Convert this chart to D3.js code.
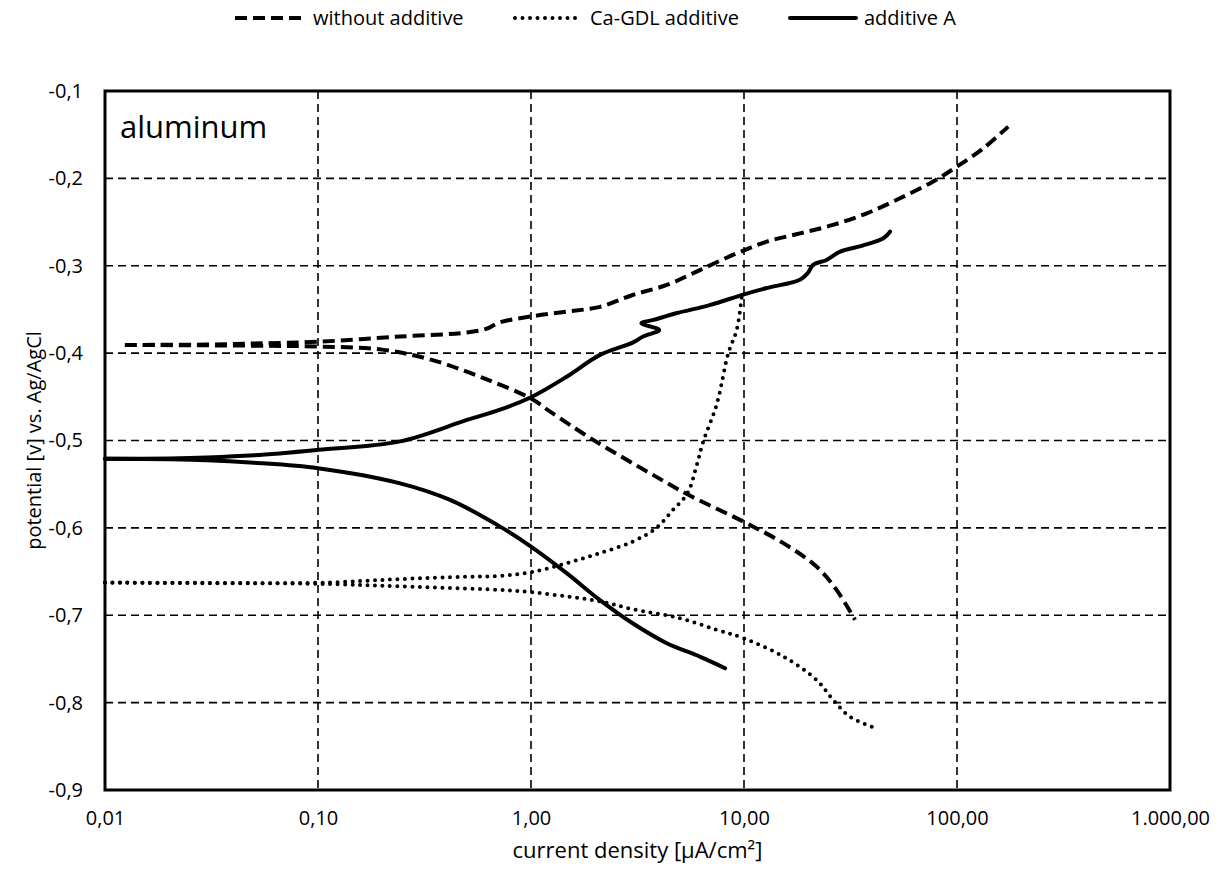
<!DOCTYPE html>
<html>
<head>
<meta charset="utf-8">
<script src="https://cdn.jsdelivr.net/npm/d3@7"></script>
<style>
  body { margin: 0; background: #fff; }
  text { font-family: "Open Sans", "Noto Sans", sans-serif; fill: #000; }
</style>
</head>
<body>
<div id="chart"></div>
<script>

// tick values and labels
var xTicks = [0.01, 0.1, 1, 10, 100, 1000];
var xTickLabels = ["0,01", "0,10", "1,00", "10,00", "100,00", "1.000,00"];
var yTicks = [-0.1, -0.2, -0.3, -0.4, -0.5, -0.6, -0.7, -0.8, -0.9];
var yTickLabels = ["-0,1", "-0,2", "-0,3", "-0,4", "-0,5", "-0,6", "-0,7", "-0,8", "-0,9"];

var seriesNames = ["without additive", "Ca-GDL additive", "additive A"];

// [current density µA/cm², potential V]
var noAdditiveAnodic = [
  [0.0124, -0.3906], [0.03, -0.3902], [0.05, -0.389], [0.1, -0.387], [0.243, -0.381],
  [0.5, -0.3765], [0.62, -0.372], [0.71, -0.365], [1.0, -0.358], [1.47, -0.3525], [2.11, -0.347],
  [3.0, -0.3335], [4.34, -0.322], [6.2, -0.305], [9.25, -0.2857], [12.8, -0.2724],
  [18.3, -0.263], [26.2, -0.2533], [37.7, -0.24], [54, -0.2228], [77, -0.2038],
  [99.8, -0.1866], [133, -0.1656], [174, -0.1408]
];
var noAdditiveCathodic = [
  [0.0124, -0.3906], [0.05, -0.3915], [0.1, -0.3925], [0.2, -0.396], [0.345, -0.408],
  [0.59, -0.428], [1.0, -0.452], [1.23, -0.467], [1.96, -0.4993], [3.62, -0.5374],
  [5.48, -0.5622], [9.93, -0.5928], [15.3, -0.6175], [21.9, -0.6443], [27.2, -0.671],
  [33.2, -0.7053]
];
var caGdlAnodic = [
  [0.01, -0.6626], [0.1, -0.6628], [0.243, -0.6586], [0.5, -0.656], [0.71, -0.655],
  [1.0, -0.6507], [1.47, -0.6404], [2.1, -0.629], [3.0, -0.6157], [3.86, -0.6004],
  [4.64, -0.5794], [5.43, -0.5603], [5.97, -0.53], [6.44, -0.501], [7.44, -0.459],
  [8.44, -0.40], [9.25, -0.373], [9.75, -0.336]
];
var caGdlCathodic = [
  [0.01, -0.6626], [0.1, -0.664], [0.243, -0.667], [0.71, -0.671], [1.0, -0.6736],
  [1.47, -0.6785], [2.1, -0.684], [3.0, -0.693], [5.0, -0.7034], [7.44, -0.7167],
  [9.93, -0.7262], [15.3, -0.7472], [21.9, -0.774], [26.2, -0.7968], [31.4, -0.816],
  [41.2, -0.829]
];
var additiveAAnodic = [
  [0.01, -0.521], [0.02, -0.5205], [0.03, -0.5195], [0.05, -0.517], [0.1, -0.5107],
  [0.243, -0.501], [0.5, -0.4765], [0.71, -0.465], [1.0, -0.4505], [1.47, -0.427],
  [2.11, -0.402], [3.0, -0.388], [3.36, -0.381], [4.0, -0.3735], [3.3, -0.3658],
  [3.76, -0.362], [4.8, -0.3544], [6.9, -0.345], [9.93, -0.333], [12.8, -0.3255],
  [18.3, -0.316], [19.9, -0.3086], [21.1, -0.299], [24.4, -0.2934], [28.3, -0.2838],
  [36, -0.277], [45.1, -0.2686], [48.5, -0.261]
];
var additiveACathodic = [
  [0.01, -0.521], [0.02, -0.5215], [0.03, -0.5225], [0.05, -0.5255], [0.1, -0.5317],
  [0.243, -0.549], [0.417, -0.568], [0.71, -0.598], [1.0, -0.6214], [1.47, -0.6518],
  [2.1, -0.6824], [3.0, -0.7092], [4.34, -0.732], [6.2, -0.7473], [8.15, -0.7606]
];

// set the dimensions and margins of the graph
var margin = {top: 91, right: 54, bottom: 89, left: 105},
    width = 1224 - margin.left - margin.right,
    height = 879 - margin.top - margin.bottom;

var svgRoot = d3.select("#chart")
  .append("svg")
    .attr("width", 1224)
    .attr("height", 879);

var svg = svgRoot.append("g")
    .attr("transform", "translate(" + margin.left + "," + margin.top + ")");

var x = d3.scaleLog()
  .domain([0.01, 1000])
  .range([0, width]);

var y = d3.scaleLinear()
  .domain([-0.9, -0.1])
  .range([height, 0]);

// grid lines
svg.append("g")
  .selectAll("line")
  .data(xTicks.slice(1, -1))
  .enter()
  .append("line")
    .attr("x1", function(d) { return x(d); })
    .attr("x2", function(d) { return x(d); })
    .attr("y1", 0)
    .attr("y2", height)
    .attr("stroke", "#000")
    .attr("stroke-width", 1.6)
    .attr("stroke-dasharray", "8,5");

svg.append("g")
  .selectAll("line")
  .data(yTicks.slice(1, -1))
  .enter()
  .append("line")
    .attr("x1", 0)
    .attr("x2", width)
    .attr("y1", function(d) { return y(d); })
    .attr("y2", function(d) { return y(d); })
    .attr("stroke", "#000")
    .attr("stroke-width", 1.6)
    .attr("stroke-dasharray", "8,5");

// axes (labels only, frame drawn below)
var xAxis = svg.append("g")
  .attr("transform", "translate(0," + height + ")")
  .call(d3.axisBottom(x).tickValues(xTicks).tickSize(0).tickPadding(21)
    .tickFormat(function(d, i) { return xTickLabels[i]; }));

var yAxis = svg.append("g")
  .call(d3.axisLeft(y).tickValues(yTicks).tickSize(0).tickPadding(22)
    .tickFormat(function(d, i) { return yTickLabels[i]; }));

[xAxis, yAxis].forEach(function(a) {
  a.select(".domain").remove();
  a.selectAll("text")
    .style("font-family", "'Open Sans', 'Noto Sans', sans-serif")
    .style("font-size", "20px")
    .attr("fill", "#000");
});

// series lines
var line = d3.line()
  .x(function(d) { return x(d[0]); })
  .y(function(d) { return y(d[1]); })
  .curve(d3.curveCatmullRom.alpha(0.5));

var styles = [
  {dash: "12,6", cap: "butt", w: 4},
  {dash: "0,7.5", cap: "round", w: 4},
  {dash: null, cap: "round", w: 4}
];

var branches = [
  [noAdditiveAnodic, 0], [noAdditiveCathodic, 0],
  [caGdlAnodic, 1], [caGdlCathodic, 1],
  [additiveAAnodic, 2], [additiveACathodic, 2]
];

branches.forEach(function(b) {
  var s = styles[b[1]];
  svg.append("path")
    .datum(b[0])
    .attr("d", line)
    .attr("fill", "none")
    .attr("stroke", "#000")
    .attr("stroke-width", s.w)
    .attr("stroke-linecap", s.cap)
    .attr("stroke-linejoin", "round")
    .attr("stroke-dasharray", s.dash);
});

// plot frame
svg.append("rect")
  .attr("x", 0)
  .attr("y", 0)
  .attr("width", width)
  .attr("height", height)
  .attr("fill", "none")
  .attr("stroke", "#000")
  .attr("stroke-width", 3);

svg.append("text")
  .attr("x", 15)
  .attr("y", 47)
  .style("font-size", "31px")
  .text("aluminum");

// axis titles
svgRoot.append("text")
  .attr("text-anchor", "middle")
  .attr("x", margin.left + width / 2)
  .attr("y", 858)
  .style("font-size", "22px")
  .text("current density [µA/cm²]");

svgRoot.append("text")
  .attr("text-anchor", "middle")
  .attr("transform", "rotate(-90)")
  .attr("x", -(margin.top + height / 2))
  .attr("y", 41)
  .style("font-size", "20px")
  .text("potential [v] vs. Ag/AgCl");

// legend
var legendStart = [233, 513, 788];
var legendEnd = [309, 580, 858];
var legendText = [313, 590, 864];
var legendG = svgRoot.append("g");
seriesNames.forEach(function(name, i) {
  var s = styles[i];
  legendG.append("line")
    .attr("x1", legendStart[i] + 2)
    .attr("x2", legendEnd[i] - 2)
    .attr("y1", 18)
    .attr("y2", 18)
    .attr("stroke", "#000")
    .attr("stroke-width", s.w)
    .attr("stroke-linecap", s.cap)
    .attr("stroke-dasharray", s.dash);
  legendG.append("text")
    .attr("x", legendText[i])
    .attr("y", 25)
    .style("font-size", "20px")
    .text(name);
});

</script>
</body>
</html>
